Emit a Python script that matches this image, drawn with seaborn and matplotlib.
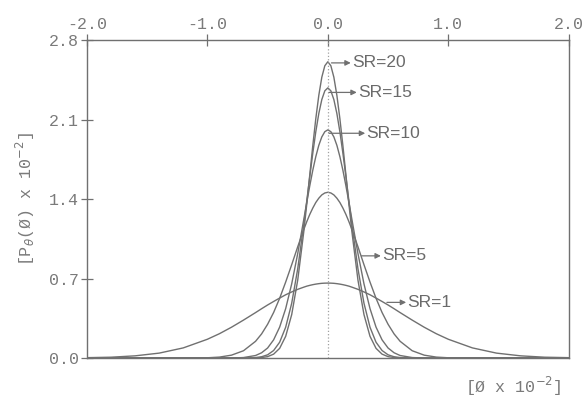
import matplotlib
matplotlib.use("Agg")
import matplotlib.pyplot as plt
import seaborn as sns
import pandas as pd

# curves are symmetric about phi = 0; half-profiles
# angle phi (x 10^-2) from 0 outward, density P_theta(phi) (x 10^-2)
phi_half = [0.0, 0.025, 0.05, 0.075, 0.1, 0.125, 0.15, 0.175, 0.2, 0.25, 0.3,
            0.35, 0.4, 0.45, 0.5, 0.55, 0.6, 0.7, 0.8, 0.9, 1.0, 1.2, 1.4,
            1.6, 1.8, 2.0]

sr1 = [0.66, 0.6595, 0.658, 0.655, 0.651, 0.646, 0.640, 0.633, 0.624, 0.605, 0.582,
       0.557, 0.528, 0.498, 0.467, 0.434, 0.400, 0.334, 0.271, 0.214, 0.165, 0.089, 0.043,
       0.019, 0.007, 0.003]
sr5 = [1.46, 1.454, 1.437, 1.408, 1.370, 1.321, 1.265, 1.201, 1.131, 0.980, 0.822,
       0.669, 0.526, 0.401, 0.297, 0.212, 0.147, 0.064, 0.025, 0.008, 0.002, 0, 0,
       0, 0, 0]
sr10 = [2.01, 1.994, 1.948, 1.874, 1.774, 1.654, 1.517, 1.371, 1.219, 0.920, 0.653,
        0.435, 0.272, 0.160, 0.088, 0.046, 0.022, 0.004, 0, 0, 0, 0, 0,
        0, 0, 0]
sr15 = [2.38, 2.354, 2.277, 2.154, 1.993, 1.804, 1.597, 1.383, 1.173, 0.786, 0.482,
        0.271, 0.139, 0.066, 0.028, 0.011, 0.004, 0, 0, 0, 0, 0, 0,
        0, 0, 0]
sr20 = [2.61, 2.575, 2.474, 2.314, 2.108, 1.870, 1.613, 1.355, 1.110, 0.686, 0.382,
        0.191, 0.085, 0.034, 0.012, 0.004, 0, 0, 0, 0, 0, 0, 0,
        0, 0, 0]

sr_names = ["SR=1", "SR=5", "SR=10", "SR=15", "SR=20"]
curves = [sr1, sr5, sr10, sr15, sr20]

phi = [-v for v in phi_half[:0:-1]] + phi_half
frames = []
for n, c in zip(sr_names, curves):
    frames.append(pd.DataFrame({"phi": phi, "p": c[:0:-1] + c, "sr": n}))
df = pd.concat(frames)

sns.set_style("ticks")
grey = "#707070"
text_grey = "#7a7a7a"
mono = "Liberation Mono"

fig = plt.figure(figsize=(5.87, 3.98), dpi=100)
ax = fig.add_axes([0.148, 0.1005, 0.821, 0.7985])

sns.lineplot(data=df, x="phi", y="p", hue="sr",
             palette=[grey] * len(sr_names), legend=False,
             linewidth=1.0, ax=ax)
ax.axvline(0, ls=":", lw=0.9, color="#a0a0a0")

ax.set_xlim(-2.0, 2.0)
ax.set_ylim(0.0, 2.8)
ax.xaxis.tick_top()
ax.set_xticks([-2.0, -1.0, 0.0, 1.0, 2.0])
ax.set_yticks([0.0, 0.7, 1.4, 2.1, 2.8])
ax.set_xticklabels(["-2.0", "-1.0", "0.0", "1.0", "2.0"])
ax.set_yticklabels(["0.0", "0.7", "1.4", "2.1", "2.8"])
ax.tick_params(direction="inout", length=8, width=0.9, color=grey,
               labelcolor=text_grey, labelsize=12, pad=2)
for lab in ax.get_xticklabels() + ax.get_yticklabels():
    lab.set_family(mono)
for s in ax.spines.values():
    s.set_visible(True)
    s.set_color(grey)
    s.set_linewidth(1.0)
ax.set_xlabel("")
ax.set_ylabel(r"[P$_\theta$(Ø) x 10$^{-2}$]", family=mono, fontsize=12,
              color=text_grey, labelpad=8)

# labels with arrows (arrow tail on the curve, head at the text)
labels = [("SR=20", 0.03, 0.19, 2.60), ("SR=15", 0.01, 0.24, 2.34),
          ("SR=10", 0.01, 0.31, 1.98), ("SR=5", 0.28, 0.44, 0.90),
          ("SR=1", 0.49, 0.65, 0.49)]
for txt, x0, x1, y in labels:
    ax.annotate("", xy=(x1, y), xytext=(x0, y),
                arrowprops=dict(arrowstyle="-|>", color=grey, lw=0.9,
                                shrinkA=0, shrinkB=0, mutation_scale=8))
    ax.text(x1 + 0.01, y, txt, family="Liberation Sans", fontsize=12.5,
            color="#6a6a6a", va="center", ha="left")

fig.text(0.874, 0.028, r"[Ø x 10$^{-2}$]", family=mono, fontsize=12,
         color=text_grey, ha="center", va="center")

fig.savefig("out.png", dpi=100)
